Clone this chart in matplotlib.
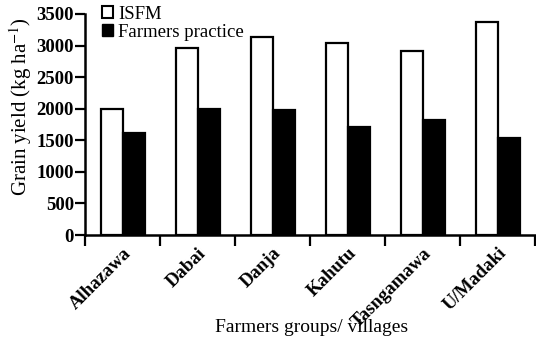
import numpy as np
import matplotlib
matplotlib.use("Agg")
import matplotlib.pyplot as plt
from matplotlib.patches import Patch

# Grain yield per farmer group, ISFM vs farmers practice
villages = ["Alhazawa", "Dabai", "Danja", "Kahutu", "Tasngamawa", "U/Madaki"]
isfm = [2000, 2960, 3140, 3035, 2910, 3370]
farmers = [1610, 1990, 1975, 1710, 1815, 1540]

plt.rcParams["font.family"] = ["Liberation Serif", "DejaVu Serif"]
plt.rcParams["mathtext.fontset"] = "stix"

fig = plt.figure(figsize=(5.36, 3.41), dpi=100)
ax = fig.add_axes([85 / 536, 106 / 341, 451 / 536, 221 / 341])

x = np.arange(len(villages)) + 0.5
w = 22 / 75
ax.bar(x - w / 2, isfm, width=w, color="white", edgecolor="black", linewidth=1.6, label="ISFM")
ax.bar(x + w / 2, farmers, width=w, color="black", edgecolor="black", linewidth=1.6, label="Farmers practice")

ax.set_xlim(0, 6.01)
ax.set_ylim(0, 3500)
ax.set_yticks(np.arange(0, 3501, 500))
ax.set_xticks(np.arange(0, 7))
ax.set_xticklabels([])
ax.set_xticks(x, minor=True)
ax.set_xticklabels(villages, minor=True, rotation=45, ha="right", va="top",
                   rotation_mode="anchor", fontsize=13.5, fontweight="bold")
ax.tick_params(axis="x", which="minor", length=0, pad=7)
ax.tick_params(axis="x", which="major", length=8, width=1.6, direction="out")
ax.tick_params(axis="y", length=7, width=1.6, direction="out", pad=1, labelsize=13.5)
for lbl in ax.get_yticklabels():
    lbl.set_fontweight("bold")

for side in ("top", "right"):
    ax.spines[side].set_visible(False)
for side in ("left", "bottom"):
    ax.spines[side].set_linewidth(1.8)

ax.set_ylabel("Grain yield (kg ha$^{-1}$)", fontsize=15)
ax.yaxis.set_label_coords(-0.113, 0.58)
fig.text(312 / 536, 1 - 327 / 341, "Farmers groups/ villages", fontsize=14,
         ha="center", va="center")

handles = [Patch(facecolor="white", edgecolor="black", linewidth=1.5, label="ISFM"),
           Patch(facecolor="black", edgecolor="black", label="Farmers practice")]
ax.legend(handles=handles, loc="upper left", bbox_to_anchor=(0.02, 1.07), frameon=False,
          fontsize=13.5, handlelength=0.6, handleheight=0.6, handletextpad=0.3,
          labelspacing=0.05, borderaxespad=0)

fig.savefig("out.png", dpi=100)
